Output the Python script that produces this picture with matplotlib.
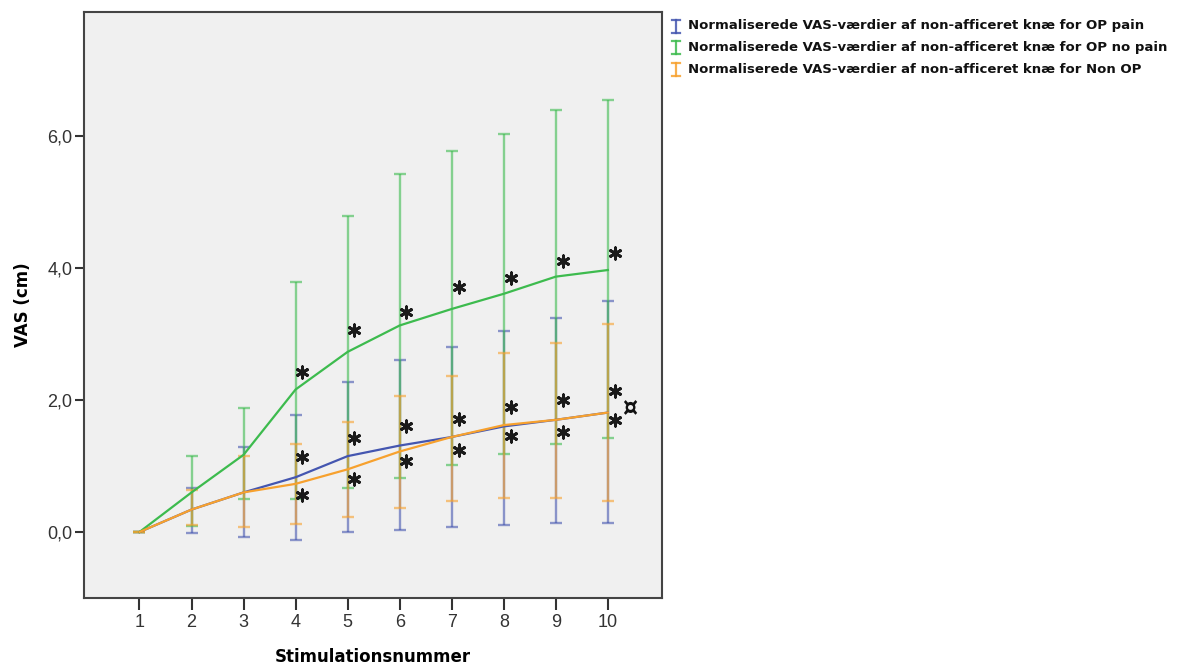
import matplotlib
matplotlib.use('Agg')
import numpy as np
import matplotlib.pyplot as plt
from matplotlib.ticker import FuncFormatter

# Stimulation number (x) and mean VAS with error limits for each group
stim = np.arange(1, 11)

op_pain_mean = [0.00, 0.34, 0.60, 0.83, 1.15, 1.31, 1.44, 1.60, 1.70, 1.81]
op_pain_low = [0.00, -0.01, -0.07, -0.12, 0.00, 0.03, 0.08, 0.10, 0.14, 0.14]
op_pain_high = [0.00, 0.67, 1.29, 1.78, 2.28, 2.61, 2.81, 3.05, 3.24, 3.50]

op_nopain_mean = [0.00, 0.60, 1.17, 2.16, 2.73, 3.13, 3.38, 3.61, 3.87, 3.97]
op_nopain_low = [0.00, 0.09, 0.50, 0.50, 0.67, 0.82, 1.02, 1.18, 1.34, 1.42]
op_nopain_high = [0.00, 1.15, 1.88, 3.79, 4.79, 5.43, 5.77, 6.03, 6.39, 6.54]

non_op_mean = [0.00, 0.34, 0.60, 0.73, 0.95, 1.22, 1.44, 1.62, 1.70, 1.81]
non_op_low = [0.00, 0.10, 0.07, 0.12, 0.22, 0.36, 0.47, 0.52, 0.52, 0.47]
non_op_high = [0.00, 0.63, 1.15, 1.33, 1.67, 2.06, 2.37, 2.72, 2.87, 3.15]

# significance markers (stimulations 4-10)
sig_stim = np.arange(4, 11)
sig_nopain = [2.42, 3.06, 3.33, 3.72, 3.85, 4.10, 4.23]
sig_pain = [1.14, 1.43, 1.61, 1.71, 1.89, 2.00, 2.13]
sig_nonop = [0.56, 0.80, 1.08, 1.25, 1.45, 1.52, 1.69]
other_stim = 10
other_val = 1.86

labels = ['Normaliserede VAS-værdier af non-afficeret knæ for OP pain',
          'Normaliserede VAS-værdier af non-afficeret knæ for OP no pain',
          'Normaliserede VAS-værdier af non-afficeret knæ for Non OP']
colors = ['#4456b0', '#3dbb4e', '#f7a12e']

fig = plt.figure(figsize=(11.88, 6.66), dpi=100)
ax = fig.add_axes([84 / 1188, 68 / 666, 578 / 1188, 586 / 666])
ax.set_facecolor('#f0f0f0')

series = [(op_pain_mean, op_pain_low, op_pain_high),
          (op_nopain_mean, op_nopain_low, op_nopain_high),
          (non_op_mean, non_op_low, non_op_high)]

# error bars first, semi-transparent so overlaps blend
for (m, lo, hi), c in zip(series, colors):
    m = np.array(m)
    yerr = [m - np.array(lo), np.array(hi) - m]
    ax.errorbar(stim, m, yerr=yerr, fmt='none', ecolor=c, elinewidth=1.7,
                capsize=4.6, capthick=1.7, alpha=0.6, zorder=2)

for (m, lo, hi), c in zip(series, colors):
    ax.plot(stim, m, color=c, lw=1.6, zorder=3)

dx = 0.13
for vals in (sig_nopain, sig_pain, sig_nonop):
    ax.scatter(sig_stim + dx, vals, marker=(6, 2, 0), s=66, linewidths=2.1,
               color='#1a1a1a', zorder=4)
ax.text(other_stim + 0.41, other_val, '¤', fontsize=17, fontweight='bold',
        ha='center', va='center', color='#111', zorder=4)

ax.set_xlim(-0.066, 11.04)
ax.set_ylim(-1.0, 7.88)
ax.set_xticks(stim)
ax.set_yticks([0, 2, 4, 6])
ax.yaxis.set_major_formatter(FuncFormatter(lambda v, p: f'{v:.1f}'.replace('.', ',')))

for lab in ax.get_xticklabels() + ax.get_yticklabels():
    lab.set_fontfamily('Liberation Sans')
    lab.set_fontsize(13)
    lab.set_color('#333333')
ax.tick_params(axis='x', length=8.5, width=1.5, color='#333333', pad=3)
ax.tick_params(axis='y', length=6.5, width=1.5, color='#333333', pad=2)
for sp in ax.spines.values():
    sp.set_color('#444444')
    sp.set_linewidth(1.5)

ax.set_xlabel('Stimulationsnummer', fontsize=12, fontweight='bold', va='center')
ax.set_ylabel('VAS (cm)', fontsize=12, fontweight='bold', va='center')
ax.xaxis.set_label_coords(0.5, -0.1)
ax.yaxis.set_label_coords(-0.105, 0.5)

# legend drawn in pixel coordinates on an overlay
lg = fig.add_axes([0, 0, 1, 1])
lg.set_xlim(0, 1188)
lg.set_ylim(666, 0)
lg.axis('off')
for i, (lab, c) in enumerate(zip(labels, colors)):
    yc = 26 + i * 21.6
    lg.plot([676, 676], [yc - 6.5, yc + 6.5], color=c, lw=1.6, alpha=0.85)
    lg.plot([672, 680], [yc - 6.5, yc - 6.5], color=c, lw=1.6, alpha=0.85)
    lg.plot([672, 680], [yc + 6.5, yc + 6.5], color=c, lw=1.6, alpha=0.85)
    lg.text(688, yc, lab, fontsize=9.5, fontweight='bold', va='center',
            ha='left', color='#111111')

fig.savefig('out.png', dpi=100, facecolor='white')
